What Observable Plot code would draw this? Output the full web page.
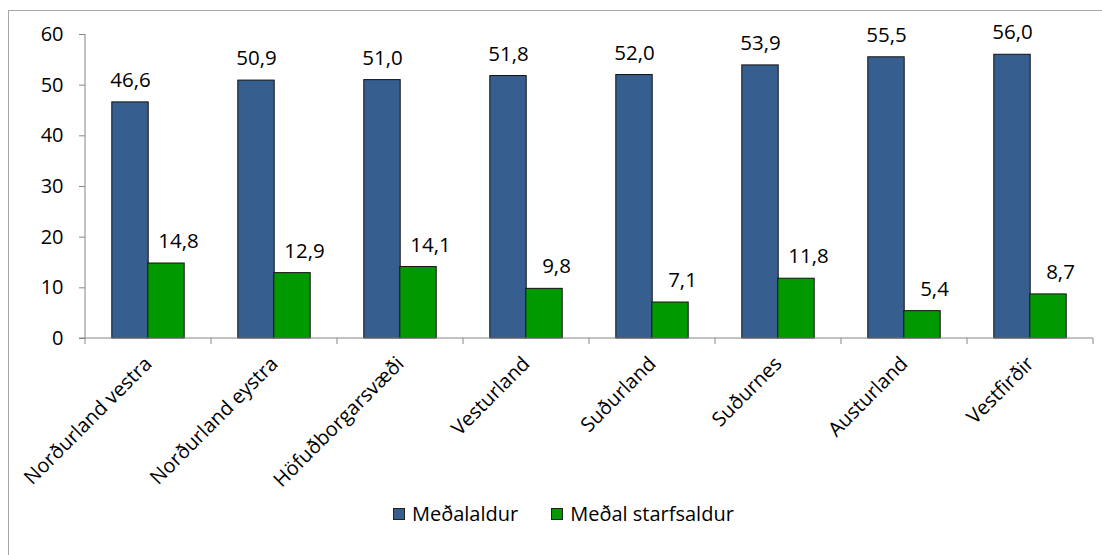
<!DOCTYPE html>
<html>
<head>
<meta charset="utf-8">
<script src="https://cdn.jsdelivr.net/npm/d3@7"></script>
<script src="https://cdn.jsdelivr.net/npm/@observablehq/plot@0.6"></script>
<style>
  html, body { margin: 0; padding: 0; width: 1102px; height: 555px; overflow: hidden; background: #fff; font-family: "Open Sans", sans-serif; }
  #frame { position: absolute; left: 8px; top: 10px; width: 1300px; height: 700px; border: 1px solid #a6a6a6; box-sizing: border-box; }
  #chart { position: absolute; left: 0; top: 0; }
  #legend { position: absolute; left: 393px; top: 500px; display: flex; align-items: center; font-size: 20px; color: #000; }
  .sw { width: 12px; height: 12px; border: 1px solid #222; box-sizing: border-box; margin-right: 7px; }
  .item { display: flex; align-items: center; margin-right: 33px; }
</style>
</head>
<body>
<div id="frame"></div>
<div id="chart"></div>
<div id="legend"></div>
<script>
const regions = ["Norðurland vestra", "Norðurland eystra", "Höfuðborgarsvæði", "Vesturland", "Suðurland", "Suðurnes", "Austurland", "Vestfirðir"];
const seriesNames = ["Meðalaldur", "Meðal starfsaldur"];
const medalaldur = [46.6, 50.9, 51.0, 51.8, 52.0, 53.9, 55.5, 56.0];
const starfsaldur = [14.8, 12.9, 14.1, 9.8, 7.1, 11.8, 5.4, 8.7];
const yTicks = [0, 10, 20, 30, 40, 50, 60];
const colors = ["#365E8E", "#009900"];

const data = [];
regions.forEach((r, i) => {
  data.push({region: r, series: seriesNames[0], value: medalaldur[i]});
  data.push({region: r, series: seriesNames[1], value: starfsaldur[i]});
});
const fmt = v => v.toFixed(1).replace(".", ",");

const axisColor = "#868686";
const W = 1102, H = 500;

const axesMark = (index, scales, values, dims) => {
  const g = d3.create("svg:g");
  const y0 = scales.y(0), yTop = scales.y(60);
  const xl = dims.marginLeft, xr = dims.width - dims.marginRight;
  g.append("line").attr("x1", xl).attr("x2", xl).attr("y1", yTop).attr("y2", y0).attr("stroke", axisColor);
  g.append("line").attr("x1", xl - 6).attr("x2", xr).attr("y1", y0).attr("y2", y0).attr("stroke", axisColor);
  const bw = scales.x.bandwidth();
  const bounds = regions.map(r => scales.x(r)).concat([scales.x(regions[regions.length - 1]) + bw]);
  bounds.forEach(b => {
    g.append("line").attr("x1", b).attr("x2", b).attr("y1", y0).attr("y2", y0 + 6).attr("stroke", axisColor);
  });
  return g.node();
};

const chart = Plot.plot({
  width: W,
  height: H,
  marginLeft: 85,
  marginRight: 9,
  marginTop: 34,
  marginBottom: H - 338,
  style: {fontFamily: "'Open Sans', sans-serif", fontSize: "20px", color: "#000", background: "transparent"},
  x: {domain: regions, padding: 0, label: null},
  y: {domain: [0, 60], label: null},
  marks: [
    Plot.barY(data.filter(d => d.series === seriesNames[0]), {x: "region", y: "value", fill: colors[0], stroke: "#111", strokeWidth: 1, insetLeft: 26.8, insetRight: 62.8}),
    Plot.barY(data.filter(d => d.series === seriesNames[1]), {x: "region", y: "value", fill: colors[1], stroke: "#111", strokeWidth: 1, insetLeft: 62.8, insetRight: 26.8}),
    Plot.text(data.filter(d => d.series === seriesNames[0]), {x: "region", y: "value", text: d => fmt(d.value), dx: -18, dy: -22, fontSize: 20.5, fill: "#000"}),
    Plot.text(data.filter(d => d.series === seriesNames[1]), {x: "region", y: "value", text: d => fmt(d.value), dx: 30, dy: -22, fontSize: 20.5, fill: "#000"}),
    Plot.axisY({ticks: yTicks, tickSize: 6, tickPadding: 16, stroke: axisColor, fontSize: 20, tickFormat: d => d, label: null}),
    Plot.axisX({tickSize: 0, tickPadding: 22, tickRotate: -45, fontSize: 20, label: null}),
    axesMark
  ]
});
document.getElementById("chart").appendChild(chart);

const legend = document.getElementById("legend");
seriesNames.forEach((s, i) => {
  const it = document.createElement("div");
  it.className = "item";
  const sw = document.createElement("div");
  sw.className = "sw";
  sw.style.background = colors[i];
  it.appendChild(sw);
  const t = document.createElement("span");
  t.textContent = s;
  it.appendChild(t);
  legend.appendChild(it);
});
</script>
</body>
</html>
